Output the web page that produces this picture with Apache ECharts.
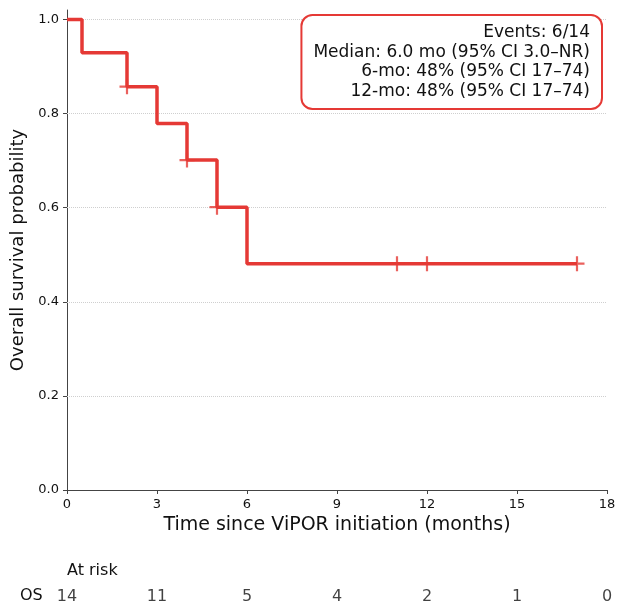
<!DOCTYPE html>
<html>
<head>
<meta charset="utf-8">
<script src="https://cdn.jsdelivr.net/npm/echarts@6/dist/echarts.min.js"></script>
<style>
  html, body { margin: 0; padding: 0; background: #fff; }
  #km { width: 624px; height: 611px; }
</style>
</head>
<body>
<div id="km"></div>
<script>
  // KM step curve (time in months, survival)
  var kmSteps = [[0, 1.0], [0.5, 0.929], [2, 0.857], [3, 0.779], [4, 0.701], [5, 0.601], [6, 0.481], [17, 0.481]];
  // censored observations
  var censored = [[2, 0.857], [4, 0.701], [5, 0.601], [11, 0.481], [12, 0.481], [17, 0.481]];
  // y ticks
  var yTicks = [0, 0.2, 0.4, 0.6, 0.8, 1.0];
  // number at risk
  var riskTimes = [0, 3, 6, 9, 12, 15, 18];
  var riskCounts = [14, 11, 5, 4, 2, 1, 0];
  var boxLines = [
    'Events: 6/14',
    'Median: 6.0 mo (95% CI 3.0–NR)',
    '6-mo: 48% (95% CI 17–74)',
    '12-mo: 48% (95% CI 17–74)'
  ];

  var red = '#e53935';
  var font = 'DejaVu Sans';
  var chart = echarts.init(document.getElementById('km'));

  var option = {
    animation: false,
    textStyle: { fontFamily: font },
    grid: [
      { left: 67, right: 17, top: 10, bottom: 121 },
      { left: 67, right: 17, top: 587, height: 20 }
    ],
    xAxis: [
      {
        gridIndex: 0, type: 'value', min: 0, max: 18, interval: 3,
        name: 'Time since ViPOR initiation (months)',
        nameLocation: 'middle', nameGap: 26,
        nameTextStyle: { fontSize: 19, color: '#111', fontFamily: font },
        axisLine: { lineStyle: { color: '#444', width: 1 } },
        axisTick: { length: 4, lineStyle: { color: '#444' } },
        axisLabel: { fontSize: 13, color: '#111', margin: 8, fontFamily: font },
        splitLine: { show: false }
      },
      {
        gridIndex: 1, type: 'value', min: 0, max: 18, show: false
      }
    ],
    yAxis: [
      {
        gridIndex: 0, type: 'value', min: 0, max: 1.02, interval: 0.2,
        name: 'Overall survival probability',
        nameLocation: 'middle', nameGap: 40,
        nameTextStyle: { fontSize: 18, color: '#111', fontFamily: font },
        axisLine: { show: true, lineStyle: { color: '#444', width: 1 } },
        axisTick: { length: 4, lineStyle: { color: '#444' }, customValues: yTicks },
        axisLabel: {
          fontSize: 13, color: '#111', margin: 8, fontFamily: font,
          customValues: yTicks,
          formatter: function (v) { return v.toFixed(1); }
        },
        splitLine: { show: false }
      },
      {
        gridIndex: 1, type: 'value', min: 0, max: 1, show: false
      }
    ],
    graphic: [
      {
        type: 'text', right: 21, top: 14, z: 100,
        style: {
          text: boxLines.join('\n'),
          align: 'right',
          textAlign: 'right',
          font: '17px "DejaVu Sans"',
          fill: '#111',
          lineHeight: 19.5,
          backgroundColor: '#fff',
          borderColor: red,
          borderWidth: 2,
          borderRadius: 10,
          padding: [7, 11, 7, 11]
        }
      },
      {
        type: 'text', left: 67, top: 563,
        style: { text: 'At risk', font: '16px "DejaVu Sans"', fill: '#111' }
      },
      {
        type: 'text', left: 20, top: 588,
        style: { text: 'OS', font: '16px "DejaVu Sans"', fill: '#111' }
      }
    ],
    series: [
      {
        // dotted reference lines at y ticks
        type: 'line', xAxisIndex: 0, yAxisIndex: 0, data: [], z: 1, silent: true,
        markLine: {
          silent: true, symbol: 'none', label: { show: false }, z: 1,
          lineStyle: { color: '#cfcfcf', type: 'dotted', width: 1 },
          data: yTicks.slice(1).map(function (v) { return { yAxis: v }; })
        }
      },
      {
        type: 'line', xAxisIndex: 0, yAxisIndex: 0,
        data: kmSteps, step: 'end', symbol: 'none',
        lineStyle: { color: red, width: 3.5 }, z: 6
      },
      {
        type: 'scatter', xAxisIndex: 0, yAxisIndex: 0,
        data: censored,
        symbol: 'path://M0,7L14,7M7,0L7,14', symbolSize: 15,
        itemStyle: { color: 'none', borderColor: red, borderWidth: 2.2 }, z: 7
      },
      {
        type: 'scatter', xAxisIndex: 1, yAxisIndex: 1,
        data: riskTimes.map(function (t, i) { return [t, 0.5, riskCounts[i]]; }),
        symbolSize: 0, silent: true,
        label: {
          show: true, position: 'inside', fontSize: 16, color: '#111', fontFamily: font,
          formatter: function (p) { return String(p.value[2]); }
        }
      }
    ]
  };
  chart.setOption(option);
</script>
</body>
</html>
